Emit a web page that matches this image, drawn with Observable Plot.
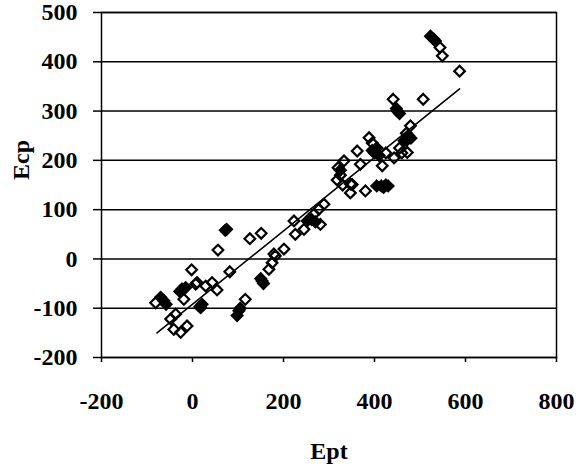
<!DOCTYPE html>
<html>
<head>
<meta charset="utf-8">
<script src="https://cdn.jsdelivr.net/npm/d3@7"></script>
<script src="https://cdn.jsdelivr.net/npm/@observablehq/plot@0.6"></script>
<style>
  html, body { margin: 0; padding: 0; background: #fff; }
</style>
</head>
<body>
<div id="chart"></div>
<script>
// Open diamonds (Ept, Ecp)
const openEpt = [-81, -48, -41, -26, -12, -37, -19, -2, 7, 10, 29, 43, 54, 56, 126, 151, 116, 82, 179, 175, 168, 182, 201, 226, 245, 223, 281, 267, 278, 289, 320, 325, 318, 330, 333, 347, 347, 351, 380, 362, 369, 388, 417, 443, 472, 441, 507, 479, 544, 549, 587, 395, 405, 425, 455, 465, 460, 470];
const openEcp = [-89, -122, -143, -149, -136, -112, -82, -22, -51, -48, -55, -48, -63, 18, 41, 52, -82, -26, 10, -8, -21, 6, 20, 50, 60, 77, 70, 91, 101, 111, 185, 170, 160, 150, 199, 152, 134, 151, 138, 219, 192, 246, 189, 205, 216, 324, 324, 270, 429, 412, 381, 235, 225, 215, 225, 240, 215, 255];
// Filled diamonds (Ept, Ecp)
const filledEpt = [75, 72, 153, 150, 156, 102, 98, 105, -63, -70, -58, -23, -15, -28, 21, 16, 18, 252, 262, 270, 395, 400, 405, 410, 405, 415, 425, 430, 420, 450, 455, 448, 523, 530, 534, 470, 480, 475, 325];
const filledEcp = [60, 58, -45, -40, -50, -105, -115, -100, -85, -78, -92, -61, -58, -66, -92, -97, -99, 77, 80, 75, 220, 215, 225, 210, 148, 148, 150, 148, 145, 300, 295, 305, 452, 446, 442, 240, 245, 250, 180];
// Fitted trend line endpoints
const lineEpt = [-78, 587];
const lineEcp = [-150, 345];
// Tick values
const xTicks = [-200, 0, 200, 400, 600, 800];
const yTicks = [-200, -100, 0, 100, 200, 300, 400, 500];

const openPts = openEpt.map((x, i) => ({x, y: openEcp[i]}));
const filledPts = filledEpt.map((x, i) => ({x, y: filledEcp[i]}));
const linePts = lineEpt.map((x, i) => ({x, y: lineEcp[i]}));

const fmt = d => String(d);

const chart = Plot.plot({
  width: 577,
  height: 470,
  marginLeft: 101,
  marginRight: 21,
  marginTop: 12,
  marginBottom: 113,
  style: {fontFamily: "'Liberation Serif', serif", fontSize: "24px", fontWeight: "bold", color: "#000", background: "#fff"},
  x: {domain: [-200, 800], ticks: xTicks},
  y: {domain: [-200, 500], ticks: yTicks},
  marks: [
    Plot.ruleY(yTicks, {stroke: "#000", strokeWidth: 1.5}),
    Plot.frame({stroke: "#000", strokeWidth: 1.5}),
    Plot.axisY({ticks: yTicks, tickFormat: fmt, tickSize: 8, tickPadding: 16, label: null, stroke: "#000", strokeWidth: 1.5, fontWeight: "bold"}),
    Plot.axisX({ticks: xTicks, tickFormat: fmt, tickSize: 5, tickPadding: 29, label: null, stroke: "#000", strokeWidth: 1.5, fontWeight: "bold"}),
    Plot.line(linePts, {x: "x", y: "y", stroke: "#000", strokeWidth: 1.6}),
    Plot.dot(filledPts, {x: "x", y: "y", symbol: "diamond2", r: 4.8, fill: "#000", stroke: "#000", strokeWidth: 2.2}),
    Plot.dot(openPts, {x: "x", y: "y", symbol: "diamond2", r: 4.8, fill: "none", stroke: "#000", strokeWidth: 2.2}),
    Plot.text(["Ept"], {frameAnchor: "bottom", dy: 101, text: d => d, fontSize: 24, fontWeight: "bold", fill: "#000"}),
    Plot.text(["Ecp"], {frameAnchor: "left", dx: -80, dy: -5, rotate: -90, text: d => d, fontSize: 24, fontWeight: "bold", fill: "#000"})
  ]
});
document.getElementById("chart").appendChild(chart);
</script>
</body>
</html>
